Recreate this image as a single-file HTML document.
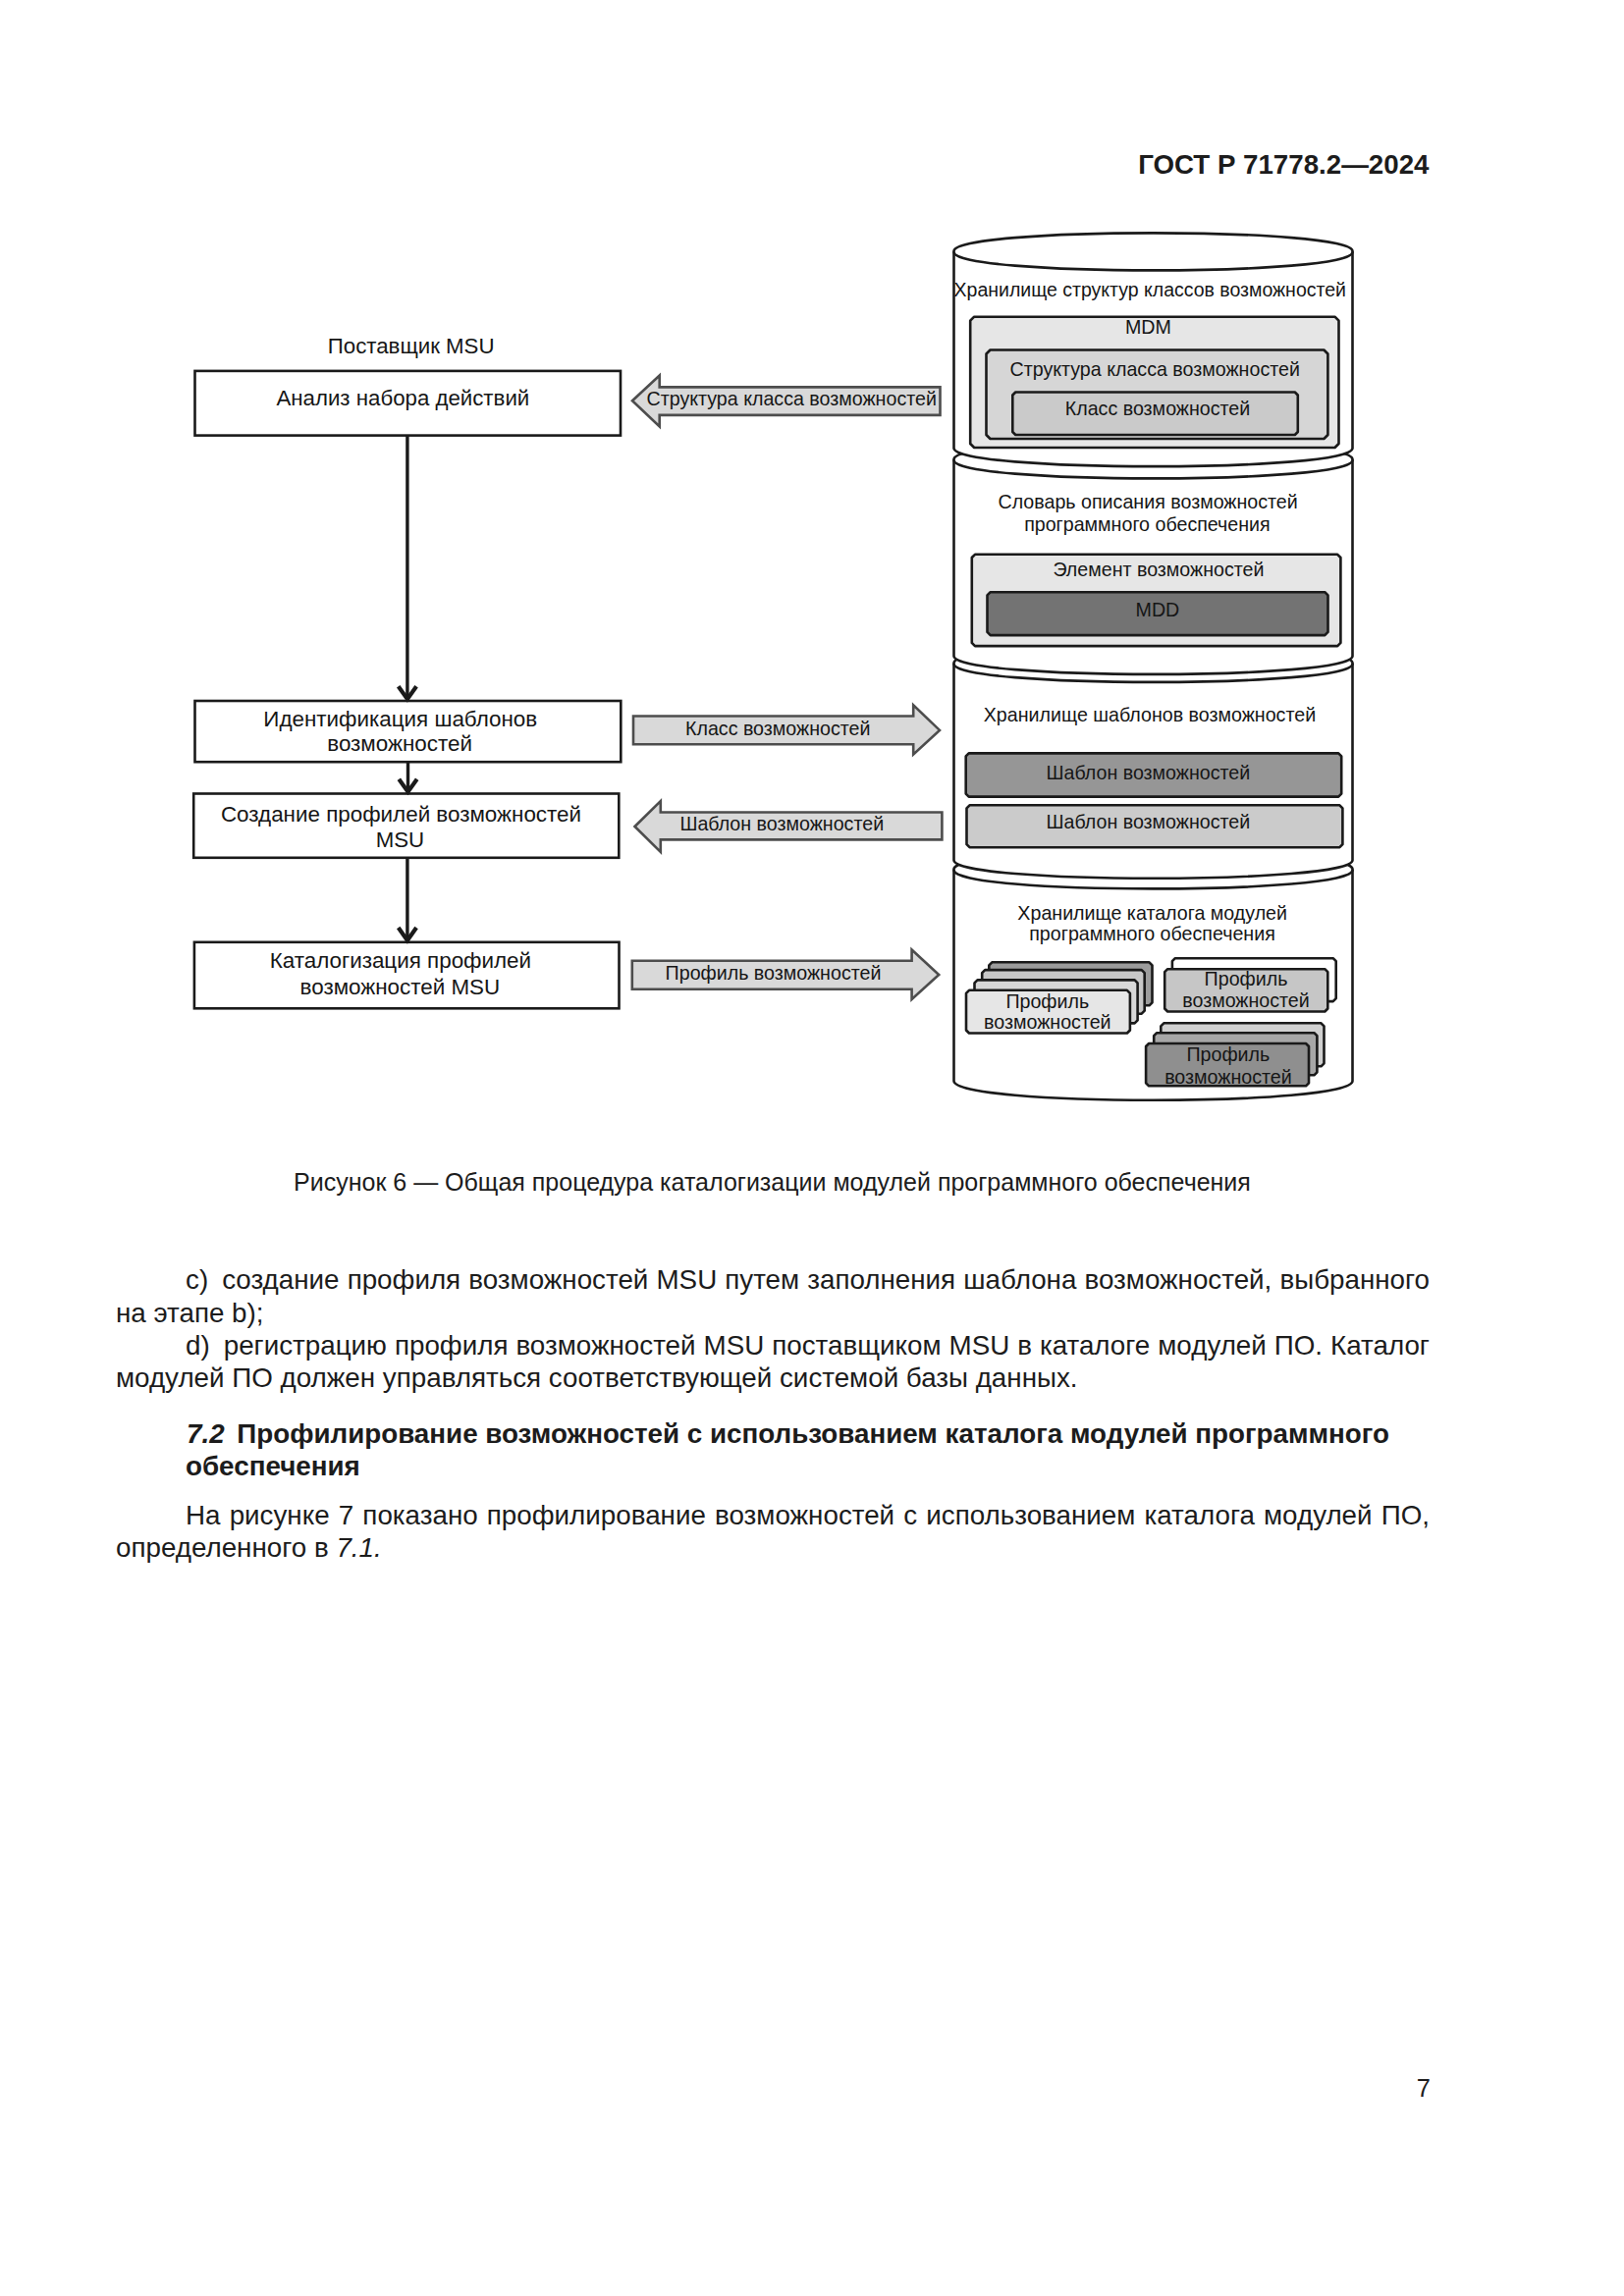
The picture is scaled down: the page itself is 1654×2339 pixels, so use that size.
<!DOCTYPE html>
<html><head><meta charset="utf-8"><style>
html,body{margin:0;padding:0;background:#fff}
#pg{position:relative;width:1654px;height:2339px;overflow:hidden;background:#fff}
svg{position:absolute;left:0;top:0}
svg text{font-family:"Liberation Sans",sans-serif}

.p{position:absolute;left:118px;width:1338px;font-family:"Liberation Sans",sans-serif;font-size:27.78px;color:#1c1c1c;white-space:nowrap;line-height:34px;height:34px}
.j{text-align:justify;text-align-last:justify;white-space:normal}

</style></head><body><div id="pg">
<svg width="1654" height="2339" viewBox="0 0 1654 2339">
<rect x="198.50" y="377.90" width="433.50" height="65.70" fill="#fff" stroke="#1a1a1a" stroke-width="2.6"/>
<rect x="198.50" y="714.00" width="433.80" height="62.20" fill="#fff" stroke="#1a1a1a" stroke-width="2.6"/>
<rect x="197.20" y="808.50" width="433.10" height="65.30" fill="#fff" stroke="#1a1a1a" stroke-width="2.6"/>
<rect x="197.90" y="959.80" width="432.60" height="67.50" fill="#fff" stroke="#1a1a1a" stroke-width="2.6"/>
<line x1="414.9" y1="443.6" x2="414.9" y2="713" stroke="#1a1a1a" stroke-width="3.4"/><polyline points="405.7,699.2 414.9,712.2 424.09999999999997,699.2" fill="none" stroke="#1a1a1a" stroke-width="4.2" stroke-linejoin="miter"/>
<line x1="415.5" y1="776.2" x2="415.5" y2="807.5" stroke="#1a1a1a" stroke-width="3.4"/><polyline points="406.3,793.7 415.5,806.7 424.7,793.7" fill="none" stroke="#1a1a1a" stroke-width="4.2" stroke-linejoin="miter"/>
<line x1="414.9" y1="873.8" x2="414.9" y2="958.8" stroke="#1a1a1a" stroke-width="3.4"/><polyline points="405.7,945.0 414.9,958.0 424.09999999999997,945.0" fill="none" stroke="#1a1a1a" stroke-width="4.2" stroke-linejoin="miter"/>
<polygon points="644,408.3 671.7,382.6 671.7,394.4 957.5,394.4 957.5,422.9 671.7,422.9 671.7,434.4" fill="#d9d9d9" stroke="#4d4d4d" stroke-width="2.6" stroke-linejoin="miter"/>
<polygon points="645,729.5 930.2,729.5 930.2,718.2 957,743.9 930.2,768.6 930.2,758.3 645,758.3" fill="#d9d9d9" stroke="#4d4d4d" stroke-width="2.6" stroke-linejoin="miter"/>
<polygon points="646.5,842 672.8,816 672.8,827.5 959.4,827.5 959.4,855.4 672.8,855.4 672.8,868" fill="#d9d9d9" stroke="#4d4d4d" stroke-width="2.6" stroke-linejoin="miter"/>
<polygon points="643.8,978.7 928.6,978.7 928.6,967.5 956.2,993 928.6,1018 928.6,1007.7 643.8,1007.7" fill="#d9d9d9" stroke="#4d4d4d" stroke-width="2.6" stroke-linejoin="miter"/>
<path d="M971.5,885.9 C967.5,859.9 1381.5,859.9 1377.5,885.9 L1377.5,1100.7 C1381.5,1127.3666666666668 967.5,1127.3666666666668 971.5,1100.7 Z" fill="#fff" stroke="#1a1a1a" stroke-width="2.6"/><path d="M971.5,885.9 C967.5,911.9 1381.5,911.9 1377.5,885.9" fill="none" stroke="#1a1a1a" stroke-width="2.6"/>
<path d="M1010.30,980.30 H1170.50 L1173.50,983.30 V1021.30 L1170.50,1024.30 H1010.30 L1007.30,1021.30 V983.30 Z" fill="#9c9c9c" stroke="#1a1a1a" stroke-width="2.6" stroke-linejoin="round"/>
<path d="M1003.20,988.10 H1162.70 L1165.70,991.10 V1029.70 L1162.70,1032.70 H1003.20 L1000.20,1029.70 V991.10 Z" fill="#c8c8c8" stroke="#1a1a1a" stroke-width="2.6" stroke-linejoin="round"/>
<path d="M995.50,998.40 H1155.60 L1158.60,1001.40 V1039.40 L1155.60,1042.40 H995.50 L992.50,1039.40 V1001.40 Z" fill="#d8d8d8" stroke="#1a1a1a" stroke-width="2.6" stroke-linejoin="round"/>
<path d="M987.00,1008.80 H1147.90 L1150.90,1011.80 V1049.50 L1147.90,1052.50 H987.00 L984.00,1049.50 V1011.80 Z" fill="#e6e6e6" stroke="#1a1a1a" stroke-width="2.6" stroke-linejoin="round"/>
<path d="M1196.90,976.20 H1357.70 L1360.70,979.20 V1017.10 L1357.70,1020.10 H1196.90 L1193.90,1017.10 V979.20 Z" fill="#ffffff" stroke="#1a1a1a" stroke-width="2.6" stroke-linejoin="round"/>
<path d="M1189.20,987.20 H1349.30 L1352.30,990.20 V1027.50 L1349.30,1030.50 H1189.20 L1186.20,1027.50 V990.20 Z" fill="#c6c6c6" stroke="#1a1a1a" stroke-width="2.6" stroke-linejoin="round"/>
<path d="M1185.30,1042.30 H1345.50 L1348.50,1045.30 V1083.30 L1345.50,1086.30 H1185.30 L1182.30,1083.30 V1045.30 Z" fill="#d0d0d0" stroke="#1a1a1a" stroke-width="2.6" stroke-linejoin="round"/>
<path d="M1178.20,1052.20 H1338.40 L1341.40,1055.20 V1092.30 L1338.40,1095.30 H1178.20 L1175.20,1092.30 V1055.20 Z" fill="#a7a7a7" stroke="#1a1a1a" stroke-width="2.6" stroke-linejoin="round"/>
<path d="M1170.10,1063.00 H1330.00 L1333.00,1066.00 V1103.30 L1330.00,1106.30 H1170.10 L1167.10,1103.30 V1066.00 Z" fill="#8f8f8f" stroke="#1a1a1a" stroke-width="2.6" stroke-linejoin="round"/>
<path d="M971.5,675.9 C967.5,650.5666666666666 1381.5,650.5666666666666 1377.5,675.9 L1377.5,875.8 C1381.5,901.1333333333333 967.5,901.1333333333333 971.5,875.8 Z" fill="#fff" stroke="#1a1a1a" stroke-width="2.6"/><path d="M971.5,675.9 C967.5,701.2333333333333 1381.5,701.2333333333333 1377.5,675.9" fill="none" stroke="#1a1a1a" stroke-width="2.6"/>
<path d="M986.70,767.40 H1363.20 L1366.20,770.40 V808.60 L1363.20,811.60 H986.70 L983.70,808.60 V770.40 Z" fill="#969696" stroke="#1a1a1a" stroke-width="2.6" stroke-linejoin="round"/>
<path d="M987.50,820.30 H1364.40 L1367.40,823.30 V860.20 L1364.40,863.20 H987.50 L984.50,860.20 V823.30 Z" fill="#cbcbcb" stroke="#1a1a1a" stroke-width="2.6" stroke-linejoin="round"/>
<path d="M971.5,468.4 C967.5,443.06666666666666 1381.5,443.06666666666666 1377.5,468.4 L1377.5,667.9 C1381.5,693.2333333333333 967.5,693.2333333333333 971.5,667.9 Z" fill="#fff" stroke="#1a1a1a" stroke-width="2.6"/><path d="M971.5,468.4 C967.5,493.7333333333333 1381.5,493.7333333333333 1377.5,468.4" fill="none" stroke="#1a1a1a" stroke-width="2.6"/>
<path d="M993.00,564.80 H1362.20 L1365.40,568.00 V654.90 L1362.20,658.10 H993.00 L989.80,654.90 V568.00 Z" fill="#e6e6e6" stroke="#1a1a1a" stroke-width="2.6" stroke-linejoin="round"/>
<path d="M1008.70,603.20 H1349.30 L1352.50,606.40 V643.90 L1349.30,647.10 H1008.70 L1005.50,643.90 V606.40 Z" fill="#737373" stroke="#1a1a1a" stroke-width="2.6" stroke-linejoin="round"/>
<path d="M971.5,256.4 C967.5,231.06666666666663 1381.5,231.06666666666663 1377.5,256.4 L1377.5,456.1 C1381.5,481.43333333333334 967.5,481.43333333333334 971.5,456.1 Z" fill="#fff" stroke="#1a1a1a" stroke-width="2.6"/><path d="M971.5,256.4 C967.5,281.7333333333333 1381.5,281.7333333333333 1377.5,256.4" fill="none" stroke="#1a1a1a" stroke-width="2.6"/>
<path d="M992.20,322.70 H1359.50 L1363.50,326.70 V452.00 L1359.50,456.00 H992.20 L988.20,452.00 V326.70 Z" fill="#e6e6e6" stroke="#1a1a1a" stroke-width="2.6" stroke-linejoin="round"/>
<path d="M1008.50,356.50 H1348.40 L1352.40,360.50 V443.00 L1348.40,447.00 H1008.50 L1004.50,443.00 V360.50 Z" fill="#d6d6d6" stroke="#1a1a1a" stroke-width="2.6" stroke-linejoin="round"/>
<path d="M1034.30,399.50 H1318.80 L1321.80,402.50 V440.00 L1318.80,443.00 H1034.30 L1031.30,440.00 V402.50 Z" fill="#cacaca" stroke="#1a1a1a" stroke-width="2.6" stroke-linejoin="round"/>
<text x="1159.15" y="177.00" font-size="27.7" font-weight="700" font-style="normal" fill="#1c1c1c">ГОСТ Р 71778.2—2024</text>
<text x="333.80" y="359.60" font-size="22.25" font-weight="400" font-style="normal" fill="#161616">Поставщик MSU</text>
<text x="281.46" y="412.80" font-size="22.25" font-weight="400" font-style="normal" fill="#161616">Анализ набора действий</text>
<text x="268.36" y="739.90" font-size="22.4" font-weight="400" font-style="normal" fill="#161616">Идентификация шаблонов</text>
<text x="333.25" y="764.90" font-size="22.4" font-weight="400" font-style="normal" fill="#161616">возможностей</text>
<text x="224.96" y="836.60" font-size="22.4" font-weight="400" font-style="normal" fill="#161616">Создание профилей возможностей</text>
<text x="382.67" y="863.00" font-size="22.25" font-weight="400" font-style="normal" fill="#161616">MSU</text>
<text x="274.76" y="985.90" font-size="22.4" font-weight="400" font-style="normal" fill="#161616">Каталогизация профилей</text>
<text x="305.55" y="1012.70" font-size="22.4" font-weight="400" font-style="normal" fill="#161616">возможностей MSU</text>
<text x="658.50" y="412.70" font-size="19.65" font-weight="400" font-style="normal" fill="#161616">Структура класса возможностей</text>
<text x="697.99" y="748.70" font-size="19.65" font-weight="400" font-style="normal" fill="#161616">Класс возможностей</text>
<text x="692.39" y="846.40" font-size="19.65" font-weight="400" font-style="normal" fill="#161616">Шаблон возможностей</text>
<text x="677.61" y="997.70" font-size="19.65" font-weight="400" font-style="normal" fill="#161616">Профиль возможностей</text>
<text x="971.56" y="301.70" font-size="19.5" font-weight="400" font-style="normal" fill="#161616">Хранилище структур классов возможностей</text>
<text x="1145.89" y="340.00" font-size="19.65" font-weight="400" font-style="normal" fill="#161616">MDM</text>
<text x="1028.50" y="383.00" font-size="19.65" font-weight="400" font-style="normal" fill="#161616">Структура класса возможностей</text>
<text x="1084.79" y="423.10" font-size="19.65" font-weight="400" font-style="normal" fill="#161616">Класс возможностей</text>
<text x="1016.50" y="518.30" font-size="19.65" font-weight="400" font-style="normal" fill="#161616">Словарь описания возможностей</text>
<text x="1043.14" y="540.70" font-size="19.65" font-weight="400" font-style="normal" fill="#161616">программного обеспечения</text>
<text x="1072.39" y="587.00" font-size="19.65" font-weight="400" font-style="normal" fill="#161616">Элемент возможностей</text>
<text x="1156.59" y="628.00" font-size="19.65" font-weight="400" font-style="normal" fill="#161616">MDD</text>
<text x="1001.76" y="735.00" font-size="19.65" font-weight="400" font-style="normal" fill="#161616">Хранилище шаблонов возможностей</text>
<text x="1065.49" y="793.70" font-size="19.65" font-weight="400" font-style="normal" fill="#161616">Шаблон возможностей</text>
<text x="1065.49" y="843.60" font-size="19.65" font-weight="400" font-style="normal" fill="#161616">Шаблон возможностей</text>
<text x="1036.36" y="936.70" font-size="19.65" font-weight="400" font-style="normal" fill="#161616">Хранилище каталога модулей</text>
<text x="1048.24" y="957.70" font-size="19.65" font-weight="400" font-style="normal" fill="#161616">программного обеспечения</text>
<text x="1024.41" y="1027.00" font-size="19.65" font-weight="400" font-style="normal" fill="#161616">Профиль</text>
<text x="1002.04" y="1048.40" font-size="19.65" font-weight="400" font-style="normal" fill="#161616">возможностей</text>
<text x="1226.61" y="1004.00" font-size="19.65" font-weight="400" font-style="normal" fill="#161616">Профиль</text>
<text x="1204.24" y="1026.00" font-size="19.65" font-weight="400" font-style="normal" fill="#161616">возможностей</text>
<text x="1208.51" y="1081.10" font-size="19.65" font-weight="400" font-style="normal" fill="#161616">Профиль</text>
<text x="1186.14" y="1103.50" font-size="19.65" font-weight="400" font-style="normal" fill="#161616">возможностей</text>
<text x="299.05" y="1212.60" font-size="25.0" font-weight="400" font-style="normal" fill="#1c1c1c">Рисунок 6 — Общая процедура каталогизации модулей программного обеспечения</text>
<text x="1442.70" y="2135.70" font-size="25.4" font-weight="400" font-style="normal" fill="#1c1c1c">7</text>
</svg>
<div class="p j" style="top:1287.37px;left:189px;width:1267px">c)<span style="display:inline-block;width:14px"></span>создание профиля возможностей MSU путем заполнения шаблона возможностей, выбранного</div>
<div class="p" style="top:1321.07px;left:118px;width:1338px">на этапе b);</div>
<div class="p j" style="top:1354.27px;left:189px;width:1267px">d)<span style="display:inline-block;width:14px"></span>регистрацию профиля возможностей MSU поставщиком MSU в каталоге модулей ПО. Каталог</div>
<div class="p" style="top:1386.77px;left:118px;width:1338px">модулей ПО должен управляться соответствующей системой базы данных.</div>
<div class="p" style="top:1444.17px;left:189px;width:1267px"><b><i style="margin-left:1px">7.2</i><span style="display:inline-block;width:12.7px"></span>Профилирование возможностей с использованием каталога модулей программного</b></div>
<div class="p" style="top:1477.37px;left:189px;width:1267px"><b>обеспечения</b></div>
<div class="p j" style="top:1526.87px;left:189px;width:1267px">На рисунке 7 показано профилирование возможностей с использованием каталога модулей ПО,</div>
<div class="p" style="top:1559.67px;left:118px;width:1338px">определенного в <i>7.1.</i></div>
</div></body></html>
